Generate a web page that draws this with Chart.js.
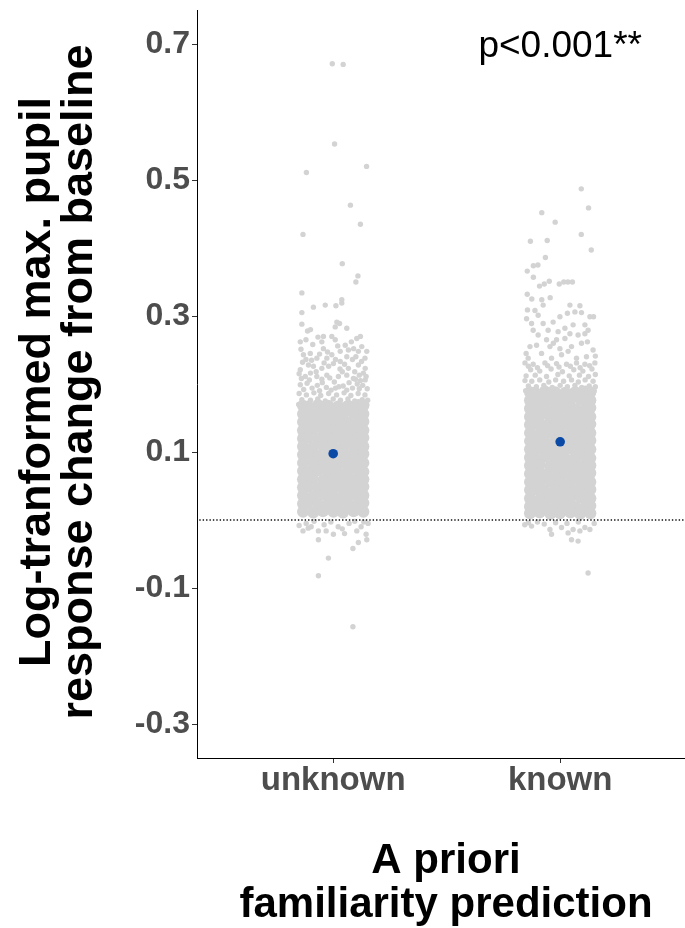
<!DOCTYPE html>
<html lang="en">
<head>
<meta charset="UTF-8">
<title>Pupil response by a priori familiarity prediction</title>
<script src="https://cdn.jsdelivr.net/npm/chart.js"></script>
<style>
  body { margin: 0; background: #fff; }
  #wrap { width: 685px; height: 928px; }
</style>
</head>
<body>
<div id="wrap"><canvas id="myChart" width="685" height="928"></canvas></div>
<script>
// categories and ticks
const categories = ['unknown', 'known'];
const yTicks = [-0.3, -0.1, 0.1, 0.3, 0.5, 0.7];
const yTitle = ['Log-tranformed max. pupil', 'response change from baseline'];
const xTitle = ['A priori', 'familiarity prediction'];
const pLabel = 'p<0.001**';

// group means (blue dots)
const meanValues = [0.0975, 0.115];

// single trials, [jitter, value] - sparse part read point by point
const unknownPoints = [
  [-0.004,0.671],[0.044,0.670],[0.006,0.553],[-0.118,0.511],[0.147,0.520],[0.076,0.463],[0.120,0.435],
  [-0.133,0.420],[0.040,0.377],[0.109,0.359],[0.100,0.350],[-0.138,0.334],[0.038,0.324],
  [-0.138,0.305],[-0.087,0.313],[-0.035,0.316],[0.012,0.315],[0.038,0.319],[-0.138,0.288],[-0.113,0.278],
  [0.016,0.291],[0.009,0.284],[0.028,0.289],[0.104,0.267],[-0.067,0.269],[-0.043,0.270],[-0.050,0.262],
  [-0.006,0.270],[0.009,0.265],[0.053,0.257],[-0.043,0.252],[-0.142,0.251],[0.126,0.255],[0.148,0.248],
  [-0.131,0.243],[-0.101,0.245],[0.031,0.248],[0.067,0.250],[0.111,0.248],[-0.072,0.238],[-0.028,0.238],
  [-0.006,0.243],[0.031,0.233],[-0.145,0.221],[-0.109,0.228],[-0.087,0.226],[-0.050,0.223],[0.001,0.230],
  [0.111,0.228],[0.141,0.223],[0.067,0.223],[-0.123,0.211],[-0.072,0.211],[-0.028,0.213],[0.023,0.211],
  [0.060,0.213],[0.089,0.208],[0.133,0.216],[0.141,0.206],[-0.145,0.199],[-0.093,0.194],[-0.048,0.202],
  [0.044,0.197],[0.106,0.200],[0.150,0.193],[-0.009,0.191],[-0.120,0.236],[0.085,0.236],[0.125,0.233],
  [-0.020,0.226],[0.030,0.222],[0.095,0.218],[-0.100,0.216],[-0.140,0.208],[-0.050,0.207],[0.005,0.203],
  [0.070,0.202],[0.120,0.205],[-0.115,0.201],[0.025,0.196],[0.085,0.194],[-0.070,0.198],[-0.030,0.195],
  [0.130,0.198],[0.060,0.240],[0.140,0.238],[-0.060,0.244],[-0.090,0.258],[0.080,0.262],[0.020,0.256],
  [-0.120,0.265],[-0.135,0.232],[-0.095,0.235],[-0.040,0.231],[0.010,0.236],[0.050,0.229],[0.100,0.240],
  [-0.150,0.215],[-0.075,0.218],[0.040,0.218],[0.115,0.213],[-0.105,0.206],[-0.015,0.209],[0.098,0.207],
  [-0.130,0.192],[-0.060,0.190],[0.010,0.194],[0.060,0.191],[0.115,0.193],[0.145,0.211],[-0.025,0.247],
  [0.090,0.252],[-0.145,0.262],[0.120,0.270],[-0.100,0.280],[0.060,0.282],
  [-0.150,0.186],[-0.118,0.184],[-0.085,0.187],[-0.055,0.183],[-0.020,0.186],[0.015,0.184],[0.048,0.187],
  [0.078,0.183],[0.110,0.186],[0.140,0.184],[-0.138,0.177],[-0.100,0.176],[-0.068,0.178],[-0.035,0.175],
  [0.000,0.178],[0.032,0.176],[0.065,0.178],[0.095,0.175],[0.128,0.177],[0.152,0.176],[-0.152,0.170],
  [-0.120,0.171],[-0.082,0.169],[-0.048,0.171],[-0.012,0.170],[0.020,0.169],[0.055,0.171],[0.085,0.169],
  [0.118,0.171],[0.148,0.170],
  [-0.150,-0.008],[-0.119,-0.005],[-0.097,-0.010],[-0.084,-0.002],[-0.040,-0.007],[0.022,-0.010],
  [0.070,-0.005],[0.123,-0.010],[0.154,-0.005],[-0.010,-0.003],[0.095,-0.002],[-0.133,-0.016],
  [-0.065,-0.016],[-0.065,-0.029],[-0.031,-0.016],[0.001,-0.021],[0.050,-0.020],[0.104,-0.016],
  [0.145,-0.021],[0.148,-0.029],[0.111,-0.033],[0.087,-0.042],[-0.021,-0.056],[-0.065,-0.082],
  [0.087,-0.157],[-0.110,-0.012],[0.040,-0.013],[0.135,-0.003]
];

const knownPoints = [
  [0.093,0.487],[0.125,0.459],[-0.081,0.452],[-0.022,0.438],[0.093,0.420],[-0.131,0.410],[-0.057,0.411],
  [0.137,0.397],[-0.065,0.386],[-0.118,0.374],[-0.098,0.375],[-0.145,0.366],[-0.118,0.357],[-0.091,0.344],
  [-0.070,0.347],[-0.048,0.351],[-0.004,0.347],[0.016,0.350],[0.034,0.350],[0.054,0.350],[-0.145,0.332],
  [-0.125,0.325],[-0.081,0.324],[-0.044,0.327],[-0.075,0.316],[-0.144,0.309],[-0.111,0.308],[0.043,0.316],
  [0.087,0.315],[0.065,0.306],[0.094,0.305],[0.131,0.299],[-0.148,0.296],[-0.097,0.301],[-0.001,0.299],
  [0.032,0.304],[0.147,0.299],[-0.126,0.289],[-0.075,0.289],[-0.031,0.291],[-0.053,0.279],[-0.009,0.277],
  [0.021,0.282],[0.057,0.287],[0.109,0.287],[-0.119,0.279],[-0.097,0.272],[0.109,0.274],[0.123,0.279],
  [0.043,0.274],[0.079,0.272],[-0.060,0.265],[-0.016,0.265],[0.021,0.267],[-0.133,0.255],[-0.104,0.257],
  [-0.045,0.255],[-0.001,0.252],[0.050,0.255],[0.094,0.260],[0.145,0.250],[-0.141,0.238],[-0.082,0.245],
  [-0.038,0.238],[0.006,0.243],[0.035,0.248],[0.072,0.238],[0.116,0.240],
  [-0.155,0.231],[-0.119,0.229],[-0.067,0.231],[-0.016,0.230],[0.028,0.229],[0.072,0.231],[0.109,0.229],
  [0.153,0.231],[-0.130,0.221],[-0.090,0.219],[-0.040,0.222],[0.010,0.218],[0.060,0.221],[0.100,0.219],
  [0.140,0.222],[-0.150,0.212],[-0.110,0.213],[-0.060,0.211],[-0.010,0.214],[0.040,0.212],[0.085,0.213],
  [0.125,0.211],[0.155,0.214],
  [-0.140,0.226],[-0.100,0.224],[-0.055,0.227],[-0.005,0.225],[0.045,0.226],[0.088,0.224],[0.130,0.227],
  [-0.155,0.205],[-0.125,0.204],[-0.090,0.206],[-0.050,0.203],[-0.020,0.206],[0.015,0.204],[0.050,0.206],
  [0.080,0.203],[0.110,0.206],[0.145,0.204],[-0.140,0.197],[-0.105,0.196],[-0.072,0.198],[-0.035,0.195],
  [0.000,0.198],[0.032,0.196],[0.065,0.198],[0.095,0.195],[0.128,0.197],[0.155,0.196],[-0.152,0.190],
  [-0.120,0.191],[-0.082,0.189],[-0.048,0.191],[-0.012,0.190],[0.020,0.189],[0.055,0.191],[0.085,0.189],
  [0.118,0.191],[0.150,0.190],[-0.030,0.260],[0.120,0.262],[-0.150,0.245],[0.155,0.241],
  [-0.156,-0.007],[-0.126,-0.009],[-0.045,-0.014],[-0.038,-0.021],[0.006,-0.011],[0.035,-0.019],
  [0.057,-0.014],[0.087,-0.016],[0.109,-0.011],[0.131,-0.014],[0.050,-0.029],[0.079,-0.031],
  [0.123,-0.078],[-0.140,-0.004],[-0.100,-0.003],[-0.070,-0.006],[-0.020,-0.004],[0.030,-0.005],
  [0.080,-0.003],[0.150,-0.005]
];

// single trials, [jitter, value] - overplotted middle of each group (estimated)
const unknownCore = [
  [-0.133,0.168],[-0.111,0.167],[-0.067,0.169],[-0.022,0.168],[0.022,0.167],[0.067,0.168],[0.111,0.169],[0.133,0.168],
  [-0.133,0.156],[-0.088,0.155],[-0.045,0.157],[0.001,0.156],[0.043,0.155],[0.090,0.157],[0.133,0.156],
  [-0.133,0.144],[-0.110,0.145],[-0.066,0.143],[-0.023,0.144],[0.021,0.145],[0.068,0.143],[0.112,0.144],[0.133,0.145],
  [-0.133,0.132],[-0.090,0.133],[-0.043,0.131],[-0.001,0.132],[0.045,0.133],[0.088,0.131],[0.133,0.132],
  [-0.133,0.120],[-0.112,0.121],[-0.068,0.119],[-0.021,0.120],[0.023,0.121],[0.066,0.119],[0.110,0.120],[0.133,0.121],
  [-0.133,0.108],[-0.089,0.107],[-0.044,0.109],[0.000,0.108],[0.044,0.107],[0.089,0.109],[0.133,0.108],
  [-0.133,0.096],[-0.111,0.097],[-0.067,0.095],[-0.022,0.096],[0.022,0.097],[0.067,0.095],[0.111,0.096],[0.133,0.097],
  [-0.133,0.084],[-0.088,0.085],[-0.045,0.083],[0.001,0.084],[0.043,0.085],[0.090,0.083],[0.133,0.084],
  [-0.133,0.072],[-0.110,0.071],[-0.066,0.073],[-0.023,0.072],[0.021,0.071],[0.068,0.073],[0.112,0.072],[0.133,0.071],
  [-0.133,0.060],[-0.090,0.061],[-0.043,0.059],[-0.001,0.060],[0.045,0.061],[0.088,0.059],[0.133,0.060],
  [-0.133,0.048],[-0.112,0.049],[-0.068,0.047],[-0.021,0.048],[0.023,0.049],[0.066,0.047],[0.110,0.048],[0.133,0.049],
  [-0.133,0.036],[-0.089,0.035],[-0.044,0.037],[0.000,0.036],[0.044,0.035],[0.089,0.037],[0.133,0.036],
  [-0.133,0.024],[-0.111,0.025],[-0.067,0.023],[-0.022,0.024],[0.022,0.025],[0.067,0.023],[0.111,0.024],[0.133,0.025],
  [-0.133,0.012],[-0.088,0.011],[-0.045,0.013],[0.001,0.012],[0.043,0.011],[0.090,0.013],[0.133,0.012]
];

const knownCore = [
  [-0.133,0.188],[-0.111,0.187],[-0.067,0.189],[-0.022,0.188],[0.022,0.187],[0.067,0.188],[0.111,0.189],[0.133,0.188],
  [-0.133,0.176],[-0.088,0.175],[-0.045,0.177],[0.001,0.176],[0.043,0.175],[0.090,0.177],[0.133,0.176],
  [-0.133,0.164],[-0.110,0.165],[-0.066,0.163],[-0.023,0.164],[0.021,0.165],[0.068,0.163],[0.112,0.164],[0.133,0.165],
  [-0.133,0.152],[-0.090,0.153],[-0.043,0.151],[-0.001,0.152],[0.045,0.153],[0.088,0.151],[0.133,0.152],
  [-0.133,0.140],[-0.112,0.141],[-0.068,0.139],[-0.021,0.140],[0.023,0.141],[0.066,0.139],[0.110,0.140],[0.133,0.141],
  [-0.133,0.128],[-0.089,0.127],[-0.044,0.129],[0.000,0.128],[0.044,0.127],[0.089,0.129],[0.133,0.128],
  [-0.133,0.116],[-0.111,0.117],[-0.067,0.115],[-0.022,0.116],[0.022,0.117],[0.067,0.115],[0.111,0.116],[0.133,0.117],
  [-0.133,0.104],[-0.088,0.105],[-0.045,0.103],[0.001,0.104],[0.043,0.105],[0.090,0.103],[0.133,0.104],
  [-0.133,0.092],[-0.110,0.091],[-0.066,0.093],[-0.023,0.092],[0.021,0.091],[0.068,0.093],[0.112,0.092],[0.133,0.091],
  [-0.133,0.080],[-0.090,0.081],[-0.043,0.079],[-0.001,0.080],[0.045,0.081],[0.088,0.079],[0.133,0.080],
  [-0.133,0.068],[-0.112,0.069],[-0.068,0.067],[-0.021,0.068],[0.023,0.069],[0.066,0.067],[0.110,0.068],[0.133,0.069],
  [-0.133,0.056],[-0.089,0.055],[-0.044,0.057],[0.000,0.056],[0.044,0.055],[0.089,0.057],[0.133,0.056],
  [-0.133,0.044],[-0.111,0.045],[-0.067,0.043],[-0.022,0.044],[0.022,0.045],[0.067,0.043],[0.111,0.044],[0.133,0.045],
  [-0.133,0.032],[-0.088,0.031],[-0.045,0.033],[0.001,0.032],[0.043,0.031],[0.090,0.033],[0.133,0.032],
  [-0.133,0.020],[-0.110,0.021],[-0.066,0.019],[-0.023,0.020],[0.021,0.021],[0.068,0.019],[0.112,0.020],[0.133,0.021],
  [-0.133,0.010],[-0.090,0.011],[-0.043,0.009],[-0.001,0.010],[0.045,0.011],[0.088,0.009],[0.133,0.010]
];

const FONT = '"Liberation Sans", Arial, sans-serif';
const GRAY = '#D3D3D3';

function toXY(pairs, cat) {
  return pairs.map(p => ({ x: cat + p[0], y: p[1] }));
}

// axis titles and p-value label
const textPlugin = {
  id: 'texts',
  afterDraw(chart) {
    const ctx = chart.ctx;
    const sx = chart.scales.x, sy = chart.scales.y;
    ctx.save();
    ctx.fillStyle = '#000';
    ctx.textAlign = 'center';
    ctx.textBaseline = 'alphabetic';

    ctx.font = '37px ' + FONT;
    ctx.fillText(pLabel, sx.getPixelForValue(2), sy.getPixelForValue(0.7) + 13);

    ctx.font = 'bold 42px ' + FONT;
    ctx.fillText(xTitle[0], 446, 873);
    ctx.fillText(xTitle[1], 446, 917);

    ctx.font = 'bold 45px ' + FONT;
    ctx.translate(50, 382);
    ctx.rotate(-Math.PI / 2);
    ctx.fillText(yTitle[0], 0, 0);
    ctx.fillText(yTitle[1], 0, 42);
    ctx.restore();
  }
};

const ctx = document.getElementById('myChart').getContext('2d');
const myChart = new Chart(ctx, {
  type: 'scatter',
  data: {
    datasets: [
      {
        label: 'mean',
        data: meanValues.map((v, i) => ({ x: i + 1, y: v })),
        pointRadius: 4.8,
        backgroundColor: '#0A4AA6',
        borderWidth: 0,
        order: 0
      },
      {
        type: 'line',
        label: 'zero',
        data: [{ x: 0.41, y: 0 }, { x: 2.55, y: 0 }],
        borderColor: '#111',
        borderWidth: 1.4,
        borderDash: [1.4, 2],
        pointRadius: 0,
        order: 1
      },
      {
        label: 'trials',
        data: toXY(unknownPoints, 1).concat(toXY(knownPoints, 2)),
        pointRadius: 2.7,
        backgroundColor: GRAY,
        borderWidth: 0,
        order: 2
      },
      {
        label: 'trials (dense)',
        data: toXY(unknownCore, 1).concat(toXY(knownCore, 2)),
        pointRadius: 6,
        backgroundColor: GRAY,
        borderWidth: 0,
        order: 3
      }
    ]
  },
  options: {
    responsive: false,
    animation: false,
    devicePixelRatio: 1,
    layout: { autoPadding: false, padding: { top: 10, left: 0, right: 0, bottom: 0 } },
    plugins: {
      legend: { display: false },
      tooltip: { enabled: false }
    },
    scales: {
      x: {
        type: 'linear',
        min: 0.4,
        max: 2.55,
        afterBuildTicks: s => { s.ticks = categories.map((c, i) => ({ value: i + 1 })); },
        afterFit: s => { s.height = 170; },
        ticks: {
          callback: v => categories[v - 1],
          font: { family: FONT, size: 33, weight: 'bold', lineHeight: 1 },
          color: '#4D4D4D',
          padding: 1,
          maxRotation: 0,
          autoSkip: false
        },
        grid: { drawOnChartArea: false, drawTicks: true, tickLength: 5, color: '#333', lineWidth: 1 },
        border: { display: true, color: '#000', width: 1 }
      },
      y: {
        min: -0.35,
        max: 0.75,
        afterBuildTicks: s => { s.ticks = yTicks.map(v => ({ value: v })); },
        afterFit: s => { s.width = 197; },
        ticks: {
          callback: v => v.toFixed(1),
          font: { family: FONT, size: 32, weight: 'bold', lineHeight: 0.5 },
          color: '#4D4D4D',
          padding: 2
        },
        grid: { drawOnChartArea: false, drawTicks: true, tickLength: 5, color: '#333', lineWidth: 1 },
        border: { display: true, color: '#000', width: 1 }
      }
    }
  },
  plugins: [textPlugin]
});
</script>
</body>
</html>
